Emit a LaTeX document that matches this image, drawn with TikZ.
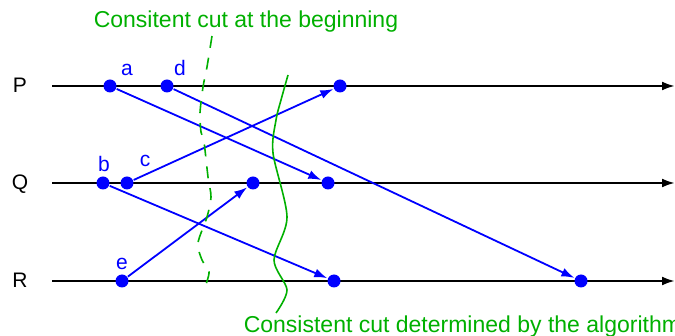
\documentclass[tikz,border=0pt]{standalone}
\usepackage{fontspec}
\setmainfont{Liberation Sans}
\usetikzlibrary{arrows.meta}
\definecolor{cutgreen}{RGB}{0,176,0}
\tikzset{every picture/.style={line width=1.6pt}}

\begin{document}
\begin{tikzpicture}[x=1pt, y=-1pt, line join=round, >={Latex[length=13pt,width=9pt]},
    font=\fontsize{21}{24}\selectfont,
    ev/.style={circle, fill=blue, inner sep=0pt, minimum size=13pt},
    lbl/.style={text=blue, anchor=base, inner sep=0pt},
    msg/.style={->, blue, line width=1.8pt},
    cuttext/.style={text=cutgreen, anchor=base west, inner sep=0pt, font=\fontsize{23}{26}\selectfont}]
  \useasboundingbox (0,0) rectangle (675,336);
  % process lines
  \foreach \p/\y in {P/86,Q/183,R/281}{
    \coordinate (\p s) at (52,\y);
    \coordinate (\p e) at (675,\y);
    \node[anchor=base, inner sep=0pt] (\p) at (20,\y+7) {\p};
    \draw[->, line width=2.4pt] (\p s) -- (\p e);
  }
  % events
  \path (110,86) node[ev] (a) {}
        (167,86) node[ev] (d) {}
        (340,86) node[ev] (p3) {}
        (103,183) node[ev] (b) {}
        (127,183) node[ev] (c) {}
        (253,183) node[ev] (q3) {}
        (328,183) node[ev] (q4) {}
        (122,281) node[ev] (e) {}
        (334,281) node[ev] (r2) {}
        (581,281) node[ev] (r3) {};
  \node[lbl] (la) at (127,76) {a};
  \node[lbl] (ld) at (180,76) {d};
  \node[lbl] (lb) at (104,172) {b};
  \node[lbl] (lc) at (145,167) {c};
  \node[lbl] (le) at (122,270) {e};
  % messages
  \draw[msg] (a) -- (q4);
  \draw[msg] (d) -- (r3);
  \draw[msg] (c) -- (p3);
  \draw[msg] (b) -- (r2);
  \draw[msg] (e) -- (q3);
  % cuts
  \draw[cutgreen, dash pattern=on 12pt off 10pt] plot[smooth] coordinates
    {(212,36) (207,67) (203,87) (200,113) (201,132) (204,142) (208,177) (211,197)
     (207,217) (198,243) (202,260) (209,272) (205,287)};
  \draw[cutgreen] plot[smooth] coordinates
    {(288,75) (281,100) (276,120) (273,153) (287,217) (274,260) (287,290) (276,313)};
  \node[cuttext] (t1) at (93,28) {Consitent cut at the beginning};
  \node[cuttext] (t2) at (243,333) {Consistent cut determined by the algorithm};
\end{tikzpicture}
\end{document}
